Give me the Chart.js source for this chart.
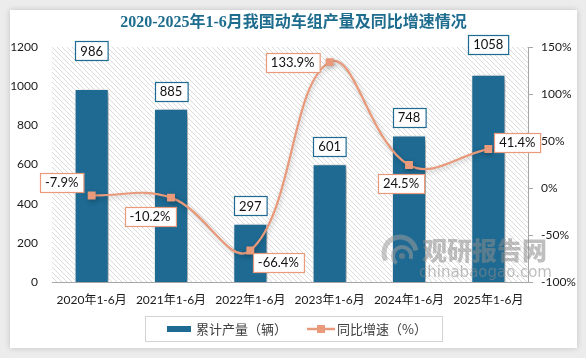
<!DOCTYPE html>
<html><head><meta charset="utf-8">
<script src="https://cdn.jsdelivr.net/npm/chart.js@4/dist/chart.umd.min.js"></script>
<style>
html,body{margin:0;padding:0;background:#ECECEC;width:586px;height:358px;overflow:hidden;}
#card{position:absolute;left:10px;top:10px;width:567px;height:338px;background:#fff;box-shadow:0 0 6px rgba(0,0,0,0.18);}
canvas{display:block;}
</style></head>
<body>
<div id="card"><canvas id="c" width="567" height="338"></canvas></div>
<script>
const title = '2020-2025年1-6月我国动车组产量及同比增速情况';
const categories = ['2020年1-6月','2021年1-6月','2022年1-6月','2023年1-6月','2024年1-6月','2025年1-6月'];
const production = [986, 885, 297, 601, 748, 1058];
const growth = [-7.9, -10.2, -66.4, 133.9, 24.5, 41.4];
const seriesNames = ['累计产量（辆）', '同比增速（%）'];
const leftTicks = [0, 200, 400, 600, 800, 1000, 1200];
const rightTicks = [-100, -50, 0, 50, 100, 150];

// label layout (style only)
const barLabelLift = [38, 17, 18, 18, 18.5, 30];
const pctLabelDx = [-30, -21, 28, -37, -8, 29];
const pctLabelDy = [-13, 19, 12, 0, 18.5, -7];

const BLUE = '#1E6A93';
const SALMON = '#E99A7A';
const FONT = "Lato, 'Noto Sans CJK SC', sans-serif";
const CJK = "'Noto Sans CJK SC', Lato, sans-serif";

function makePattern() {
  const p = document.createElement('canvas');
  p.width = 5; p.height = 5;
  const g = p.getContext('2d');
  g.fillStyle = '#fff'; g.fillRect(0,0,5,5);
  g.strokeStyle = '#D2D2D2'; g.lineWidth = 0.8;
  g.beginPath();
  g.moveTo(-1,-1); g.lineTo(6,6);
  g.moveTo(-1,4); g.lineTo(1,6);
  g.moveTo(4,-1); g.lineTo(6,1);
  g.stroke();
  return g.createPattern(p, 'repeat');
}

function box(ctx, text, cx, cy, border, font) {
  ctx.font = font;
  const w = ctx.measureText(text).width + 10;
  const h = 19;
  const x = Math.round(cx - w/2) + 0.5, y = Math.round(cy - h/2) + 0.5;
  ctx.fillStyle = '#fff';
  ctx.fillRect(x, y, w, h);
  ctx.strokeStyle = border; ctx.lineWidth = 1.2;
  ctx.strokeRect(x, y, w, h);
  ctx.fillStyle = '#111';
  ctx.textAlign = 'center'; ctx.textBaseline = 'middle';
  ctx.fillText(text, cx, cy + 0.5);
}

const deco = {
  id: 'deco',
  beforeDraw(chart) {
    const {ctx, chartArea: a} = chart;
    ctx.save();
    ctx.fillStyle = makePattern();
    ctx.fillRect(a.left, a.top, a.right - a.left, a.bottom - a.top);
    ctx.font = "bold 16px 'Liberation Serif', 'Noto Sans CJK SC', serif";
    ctx.fillStyle = '#1E6C8E';
    ctx.textAlign = 'center'; ctx.textBaseline = 'middle';
    ctx.fillText(title, chart.width/2, 13);
    ctx.restore();
  },
  beforeDatasetDraw(chart, args) {
    const ctx = chart.ctx;
    ctx.save();
    if (args.index === 0) {
      ctx.shadowColor = 'rgba(0,0,0,0.45)';
      ctx.shadowBlur = 7; ctx.shadowOffsetX = 3; ctx.shadowOffsetY = 2;
    } else {
      ctx.shadowColor = 'rgba(0,0,0,0.25)';
      ctx.shadowBlur = 5; ctx.shadowOffsetX = 1; ctx.shadowOffsetY = 2;
    }
  },
  afterDatasetDraw(chart) { chart.ctx.restore(); },
  afterDatasetsDraw(chart) {
    const ctx = chart.ctx;
    ctx.save();
    ctx.globalAlpha = 0.55;
    ctx.fillStyle = '#8a8a8a';
    ctx.strokeStyle = '#9a9a9a';
    ctx.lineWidth = 5;
    ctx.beginPath(); ctx.arc(390, 243, 16, Math.PI*0.85, Math.PI*1.95); ctx.stroke();
    ctx.lineWidth = 4;
    ctx.beginPath(); ctx.arc(392, 246, 9, Math.PI*0.7, Math.PI*2.1); ctx.stroke();
    ctx.beginPath(); ctx.arc(392, 246, 3, 0, Math.PI*2); ctx.fill();
    ctx.font = "900 25px 'Noto Sans CJK SC', sans-serif";
    ctx.textAlign = 'left'; ctx.textBaseline = 'middle';
    ctx.fillText('观研报告网', 412, 240);
    ctx.font = "15px 'DejaVu Sans', sans-serif";
    ctx.fillText('chinabaogao.com', 409, 263);
    ctx.restore();

    ctx.save();
    const bars = chart.getDatasetMeta(0).data;
    bars.forEach((b, i) => {
      box(ctx, String(production[i]), b.x, b.y - barLabelLift[i], BLUE, '13px ' + FONT);
    });
    const pts = chart.getDatasetMeta(1).data;
    pts.forEach((p, i) => {
      box(ctx, growth[i].toFixed(1) + '%', p.x + pctLabelDx[i], p.y + pctLabelDy[i], SALMON, '13px ' + FONT);
    });
    ctx.restore();
  },
  afterDraw(chart) {
    const ctx = chart.ctx;
    ctx.save();
    ctx.strokeStyle = '#D3D3D3'; ctx.lineWidth = 1;
    ctx.strokeRect(135.5, 306.5, 297, 25);
    ctx.fillStyle = BLUE;
    ctx.fillRect(157, 316, 24, 6);
    ctx.font = '13px ' + CJK;
    ctx.fillStyle = '#404040';
    ctx.textAlign = 'left'; ctx.textBaseline = 'middle';
    ctx.fillText(seriesNames[0], 186, 319);
    ctx.strokeStyle = SALMON; ctx.lineWidth = 2.5;
    ctx.beginPath(); ctx.moveTo(297, 319); ctx.lineTo(325, 319); ctx.stroke();
    ctx.fillStyle = SALMON; ctx.fillRect(307, 315, 8, 8);
    ctx.fillStyle = '#404040';
    ctx.fillText(seriesNames[1], 327, 319);
    ctx.restore();
  }
};

new Chart(document.getElementById('c'), {
  data: {
    labels: categories,
    datasets: [
      { type: 'bar', label: seriesNames[0], data: production, yAxisID: 'y', order: 1,
        backgroundColor: BLUE, borderColor: '#fff', borderWidth: 1,
        barPercentage: 0.43, categoryPercentage: 1 },
      { type: 'line', label: seriesNames[1], data: growth, yAxisID: 'y1', order: 0,
        borderColor: SALMON, borderWidth: 2.2, tension: 0.4,
        pointStyle: 'rect', pointRadius: 5.6, pointBackgroundColor: SALMON, pointBorderColor: SALMON, pointBorderWidth: 0 }
    ]
  },
  options: {
    responsive: false, animation: false, devicePixelRatio: 1,
    layout: { padding: { top: 37, left: 0, right: 0, bottom: 38 } },
    plugins: { legend: { display: false }, tooltip: { enabled: false }, title: { display: false } },
    scales: {
      x: {
        grid: { display: false, drawTicks: false },
        border: { display: true, color: '#A6A6A6', width: 1 },
        ticks: { color: '#1a1a1a', font: { size: 12, family: FONT }, padding: 11, maxRotation: 0, autoSkip: false },
        afterFit(s) { s.height = 28; }
      },
      y: {
        position: 'left', min: 0, max: 1200,
        afterBuildTicks(s) { s.ticks = leftTicks.map(v => ({ value: v })); },
        grid: { display: false, drawTicks: false },
        border: { display: false },
        ticks: { color: '#1a1a1a', font: { size: 12, family: FONT }, padding: 14, callback: v => String(v) },
        afterFit(s) { s.width = 42; }
      },
      y1: {
        position: 'right', min: -100, max: 150,
        afterBuildTicks(s) { s.ticks = rightTicks.map(v => ({ value: v })); },
        grid: { drawOnChartArea: false, drawTicks: true, tickLength: 5, color: '#A6A6A6' },
        border: { display: true, color: '#A6A6A6', width: 1 },
        ticks: { color: '#1a1a1a', font: { size: 12, family: FONT }, padding: 8, callback: v => v + '%' },
        afterFit(s) { s.width = 49; }
      }
    }
  },
  plugins: [deco]
});
</script>
</body></html>
